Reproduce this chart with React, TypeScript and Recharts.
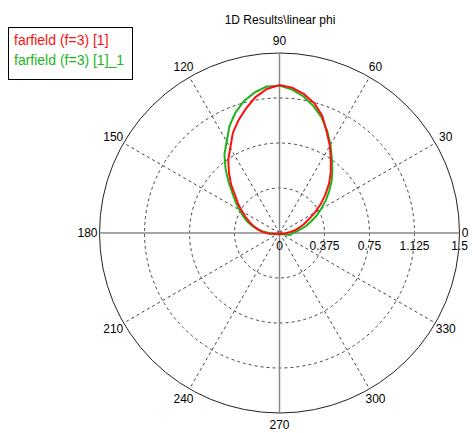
import { PolarAngleAxis, PolarGrid, PolarRadiusAxis, Radar, RadarChart } from 'recharts'

// phi in degrees, 5 degree steps
const ANGLES = Array.from({ length: 72 }, (_, i) => i * 5)

// farfield (f=3) [1]
const RED = [
  0.06, 0.09, 0.13, 0.17, 0.215, 0.27, 0.34, 0.42, 0.5, 0.585, 0.665, 0.745, 0.84, 0.93, 1.04, 1.12, 1.175, 1.215,
  1.233, 1.205, 1.15, 1.075, 1.0, 0.92, 0.82, 0.745, 0.655, 0.57, 0.48, 0.42, 0.36, 0.31, 0.265, 0.225, 0.185, 0.15,
  0.115, 0.08, 0.05, 0.03, 0.02, 0.01, 0.01, 0.01, 0.01, 0.01, 0.01, 0.01, 0.01, 0.01, 0.01, 0.01, 0.01, 0.01, 0.01,
  0.01, 0.01, 0.01, 0.01, 0.01, 0.01, 0.01, 0.01, 0.01, 0.01, 0.01, 0.01, 0.01, 0.015, 0.02, 0.03, 0.045,
]

// farfield (f=3) [1]_1
const GREEN = [
  0.11, 0.14, 0.18, 0.23, 0.28, 0.34, 0.4, 0.47, 0.54, 0.615, 0.685, 0.76, 0.85, 0.94, 1.025, 1.095, 1.155, 1.2,
  1.228, 1.225, 1.19, 1.14, 1.07, 0.985, 0.88, 0.8, 0.7, 0.6, 0.51, 0.445, 0.385, 0.335, 0.29, 0.24, 0.19, 0.14,
  0.09, 0.05, 0.03, 0.02, 0.015, 0.01, 0.01, 0.01, 0.01, 0.01, 0.01, 0.01, 0.01, 0.01, 0.01, 0.01, 0.01, 0.01, 0.01,
  0.01, 0.01, 0.01, 0.01, 0.01, 0.01, 0.01, 0.01, 0.01, 0.01, 0.01, 0.01, 0.015, 0.03, 0.06, 0.09, 0.1,
]

const ANGLE_TICKS = [0, 30, 60, 90, 120, 150, 180, 210, 240, 270, 300, 330]
const RADIUS_TICKS = [0, 0.375, 0.75, 1.125, 1.5]
const SERIES_NAMES = ['farfield (f=3) [1]', 'farfield (f=3) [1]_1']

const CX = 279.5
const CY = 233
const OUTER = 180
const FONT = '"Liberation Sans", Arial, sans-serif'
const RED_COLOR = '#ff1010'
const GREEN_COLOR = '#1cb41c'

const data = ANGLES.map((angle, i) => ({ angle, red: RED[i], green: GREEN[i] }))

function AngleTick(props: any) {
  const deg = props.payload.coordinate as number
  const rad = (deg * Math.PI) / 180
  const r = OUTER + 12
  const x = Math.min(CX + Math.cos(rad) * r, 465)
  return (
    <text
      x={x}
      y={CY - Math.sin(rad) * r}
      textAnchor="middle"
      dominantBaseline="central"
      fontFamily={FONT}
      fontSize={12}
      fill="#000"
    >
      {props.payload.value}
    </text>
  )
}

function RadiusTick(props: any) {
  return (
    <text
      x={props.x}
      y={props.y + 13}
      textAnchor="middle"
      dominantBaseline="central"
      fontFamily={FONT}
      fontSize={12}
      fill="#000"
    >
      {props.payload.value}
    </text>
  )
}

export default function App() {
  return (
    <div style={{ position: 'fixed', left: 0, top: 0, width: 472, height: 433, background: '#fff' }}>
      <RadarChart
        width={472}
        height={433}
        data={data}
        cx={CX}
        cy={CY}
        outerRadius={OUTER}
        startAngle={0}
        endAngle={360}
        margin={{ top: 0, right: 0, bottom: 0, left: 0 }}
      >
        <PolarGrid
          gridType="circle"
          polarRadius={[45, 90, 135]}
          polarAngles={[30, 60, 120, 150, 210, 240, 300, 330]}
          stroke="#444"
          strokeDasharray="3 3"
        />
        <PolarGrid gridType="circle" polarRadius={[OUTER]} radialLines={false} stroke="#222" />
        <PolarGrid gridType="circle" polarRadius={[]} polarAngles={[0, 90, 180, 270]} stroke="#888" strokeWidth={1.5} />
        <PolarAngleAxis
          dataKey="angle"
          type="number"
          domain={[0, 360]}
          ticks={ANGLE_TICKS}
          axisLine={false}
          tickLine={false}
          tick={AngleTick}
        />
        <PolarRadiusAxis
          angle={0}
          type="number"
          domain={[0, 1.5]}
          allowDecimals
          allowDataOverflow
          ticks={RADIUS_TICKS}
          axisLine={false}
          tickLine={false}
          tick={RadiusTick}
        />
        <Radar
          dataKey="green"
          stroke={GREEN_COLOR}
          strokeWidth={2}
          fill="none"
          fillOpacity={0}
          dot={false}
          isAnimationActive={false}
        />
        <Radar
          dataKey="red"
          stroke={RED_COLOR}
          strokeWidth={2}
          fill="none"
          fillOpacity={0}
          dot={false}
          isAnimationActive={false}
        />
      </RadarChart>
      <div
        style={{
          position: 'absolute',
          left: 180,
          top: 12,
          width: 200,
          textAlign: 'center',
          lineHeight: '16px',
          fontFamily: FONT,
          fontSize: 12,
          color: '#000',
        }}
      >
        1D Results\linear phi
      </div>
      <div
        style={{
          position: 'absolute',
          left: 8,
          top: 27,
          width: 118,
          height: 49,
          border: '1px solid #000',
          padding: '2px 0 0 5px',
          boxSizing: 'content-box',
          fontFamily: FONT,
          fontSize: 14,
          lineHeight: '20px',
          whiteSpace: 'nowrap',
        }}
      >
        <div style={{ color: RED_COLOR }}>{SERIES_NAMES[0]}</div>
        <div style={{ color: GREEN_COLOR }}>{SERIES_NAMES[1]}</div>
      </div>
    </div>
  )
}
